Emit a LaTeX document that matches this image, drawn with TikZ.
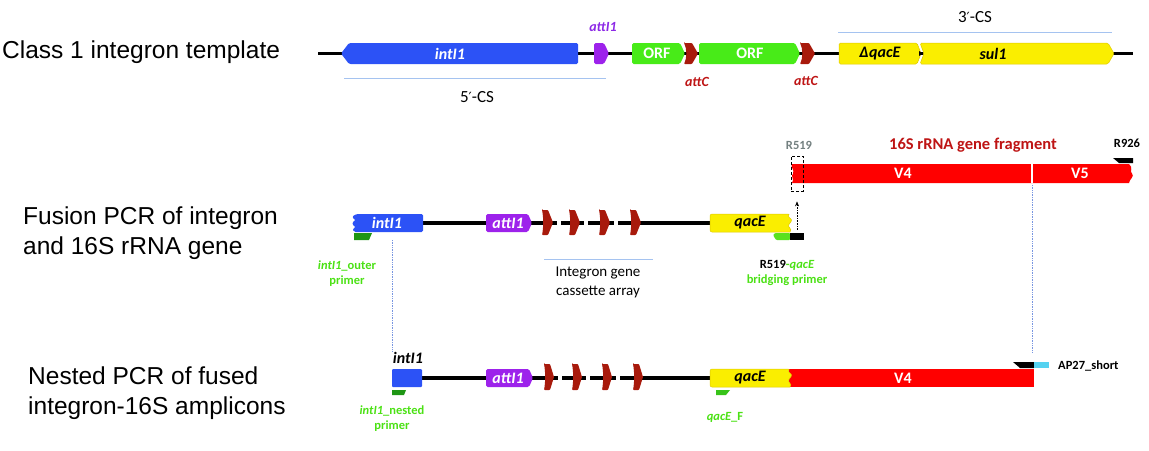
\documentclass[tikz,border=0pt]{standalone}
\usepackage{fontspec}
\setmainfont{Carlito}
\newfontfamily\helv{Liberation Sans}
\newfontfamily\djv{DejaVu Sans}
\usetikzlibrary{arrows.meta}
\definecolor{intblue}{RGB}{44,82,246}
\definecolor{attpurple}{RGB}{157,34,235}
\definecolor{orfgreen}{RGB}{72,235,24}
\definecolor{attcred}{RGB}{168,26,12}
\definecolor{qacyellow}{RGB}{250,238,0}
\definecolor{yelborder}{RGB}{222,200,0}
\definecolor{rrnared}{RGB}{255,0,0}
\definecolor{primdark}{RGB}{30,150,20}
\definecolor{primlight}{RGB}{90,225,30}
\definecolor{primmid}{RGB}{55,195,25}
\definecolor{labgreen}{RGB}{75,225,20}
\definecolor{lineblue}{RGB}{165,195,240}
\definecolor{dotblue}{RGB}{120,150,225}
\definecolor{labred}{RGB}{190,20,20}
\definecolor{labpurple}{RGB}{140,40,230}
\definecolor{labgray}{RGB}{115,128,128}
\definecolor{cyanp}{RGB}{85,210,240}
\newcommand{\primesym}{{\djv\fontsize{14}{14}\selectfont ′}}
\begin{document}
\begin{tikzpicture}[x=1pt,y=-1pt,
  backbone/.style={line width=3.4pt, black},
  gene/.style={rounded corners=1.5pt},
  genelab/.style={inner sep=0pt, text=white, font=\fontsize{16}{16}\selectfont\bfseries\itshape},
  genelabk/.style={inner sep=0pt, text=black, font=\fontsize{16}{16}\selectfont\bfseries\itshape},
  orflab/.style={inner sep=0pt, text=white, font=\fontsize{16}{16}\selectfont\bfseries},
  smalllab/.style={inner sep=0pt, font=\fontsize{12.5}{15}\selectfont\bfseries, align=center},
  sidelab/.style={inner sep=0pt, anchor=west, align=left, font=\helv\fontsize{24.5}{30}\selectfont},
  cslab/.style={inner sep=0pt, font=\fontsize{17}{17}\selectfont},
  csline/.style={lineblue, line width=0.8pt},
  guide/.style={dotblue, densely dotted, line width=0.7pt},
  marker/.style={fill=attcred, rounded corners=0.8pt}
]
\useasboundingbox (0,0) rectangle (1149,450);

% ---------- side labels ----------
\node[sidelab] (s1) at (2,52) {Class 1 integron template};
\node[sidelab] (s2) at (23,233) {Fusion PCR of integron\\and 16S rRNA gene};
\node[sidelab] (s3) at (28,393) {Nested PCR of fused\\integron-16S amplicons};

% ---------- Row 1 ----------
\coordinate (r1a) at (318,53.5);
\coordinate (r1b) at (1133,53.5);
\draw[backbone] (r1a) -- (r1b);
\fill[intblue, gene] (578,43) -- (349,43) -- (341,53.5) -- (349,64) -- (578,64) -- cycle;
\node[genelab] (g1int) at (450,53.5) {intI1};
\fill[attpurple, gene] (594,43) -- (604,43) -- (609,53.5) -- (604,64) -- (594,64) -- cycle;
\node[inner sep=0pt, text=labpurple, font=\fontsize{14}{14}\selectfont\bfseries\itshape] (l1att) at (603,27) {attI1};
\fill[orfgreen, gene] (632,43) -- (680,43) -- (685,53.5) -- (680,64) -- (632,64) -- cycle;
\node[orflab] (orf1) at (657,53.5) {ORF};
\fill[marker] (684,43) -- (692,43) -- (698,53.5) -- (692,64) -- (684,64) .. controls (687,58) and (687,49) .. cycle;
\fill[orfgreen, gene] (699,43) -- (795,43) -- (800,53.5) -- (795,64) -- (699,64) -- cycle;
\node[orflab] (orf2) at (750,53.5) {ORF};
\fill[marker] (800,43) -- (809,43) -- (815,53.5) -- (809,64) -- (800,64) .. controls (803,58) and (803,49) .. cycle;
\node[inner sep=0pt, text=labred, font=\fontsize{14}{14}\selectfont\bfseries\itshape] (c1) at (697,82) {attC};
\node[inner sep=0pt, text=labred, font=\fontsize{14}{14}\selectfont\bfseries\itshape] (c2) at (806,81) {attC};
\filldraw[fill=qacyellow, draw=yelborder, line width=0.5pt, gene] (839,43) -- (917,43) -- (921,53.5) -- (917,64) -- (839,64) -- cycle;
\filldraw[fill=qacyellow, draw=yelborder, line width=0.5pt, gene] (920,43) -- (1108,43) -- (1114,53.5) -- (1108,64) -- (920,64) -- (924,53.5) -- cycle;
\fill[black] (919,51) -- (923,53.5) -- (919,56) -- cycle;
\node[genelabk] (dq) at (880,53.5) {Δ\kern0.5pt qacE};
\node[genelabk] (sul) at (993,53.5) {sul1};
\draw[csline] (344,78) coordinate (cs5a) -- (606,78) coordinate (cs5b);
\node[cslab] (cs5) at (477,97) {5\primesym-CS};
\draw[csline] (838,32) coordinate (cs3a) -- (1112,32) coordinate (cs3b);
\node[cslab] (cs3) at (975,17) {3\primesym-CS};

% ---------- Row 2 ----------
\draw[backbone] (423,223) -- (486,223);
\draw[backbone] (531,223) -- (543,223);
\foreach \a/\b in {553/569,580/599,610/630}{
  \draw[backbone] (\a-1,223) -- (\a+4,223);
  \draw[backbone] (\a+8,223) -- (\b+1,223);
}
\draw[backbone] (640,223) -- (711,223);
\fill[intblue, gene] (423,214) -- (357,214) .. controls (352,216) and (352,218) .. (356,220) .. controls (352,222) and (352,225) .. (356,227) .. controls (352,229) and (353,232) .. (357,232) -- (423,232) -- cycle;
\node[genelab] (g2int) at (387,223) {intI1};
\fill[attpurple, gene] (486,214) -- (528,214) -- (532,223) -- (528,232) -- (486,232) -- cycle;
\node[genelab] (g2att) at (508,223) {attI1};
\foreach \xa in {542,569,599,630}{
  \fill[marker] (\xa,210) -- (\xa+6,210) -- (\xa+11,222.5) -- (\xa+6,235) -- (\xa,235) .. controls (\xa+1.5,228) and (\xa+1.5,217) .. cycle;
}
\filldraw[fill=qacyellow, draw=yelborder, line width=0.5pt, rounded corners=2pt] (790,232) -- (710,232) -- (710,214) -- (790,214) .. controls (787,217) and (793,219) .. (790,223) .. controls (787,227) and (793,229) .. (790,232);
\node[genelabk] (g2qac) at (750,223) {qacE};
% 16S fragment
\fill[rrnared] (792,164) -- (1129,164) .. controls (1134,168) and (1129,171) .. (1132,173.5) .. controls (1135,176) and (1129,180) .. (1129,183) -- (792,183) .. controls (795,179) and (790,176) .. (793,173.5) .. controls (795,170) and (790,167) .. cycle;
\draw[white, line width=1.3pt] (1032,164) -- (1032,183);
\node[orflab] (v4a) at (903,173.5) {V4};
\node[orflab] (v5a) at (1080,173.5) {V5};
\node[inner sep=0pt, text=labred, font=\fontsize{16.5}{16.5}\selectfont\bfseries] (frag) at (973,145) {16S rRNA gene fragment};
\node[inner sep=0pt, text=labgray, font=\fontsize{12.5}{12.5}\selectfont\bfseries] (r519) at (799,145) {R519};
\node[inner sep=0pt, text=black, font=\fontsize{12.5}{12.5}\selectfont\bfseries] (r926) at (1127,143) {R926};
\fill[black] (1113,158) -- (1133,158) -- (1133,163) -- (1119,163) -- cycle;
\node[draw, dash pattern=on 3pt off 2pt, line width=0.8pt, minimum width=12pt, minimum height=35pt, inner sep=0pt] (box) at (797,173.5) {};
% primers row 2
\fill[primdark] (354,233) -- (372,233) -- (369,240) -- (354,240) -- cycle;
\fill[primlight, rounded corners=1pt] (790,233) -- (775,233) -- (773,235) -- (776,240) -- (790,240) -- cycle;
\node[fill=black, minimum width=14pt, minimum height=7pt, inner sep=0pt] (bprim) at (797,236.5) {};
\draw[densely dotted, line width=0.6pt, -{Stealth[length=5pt,width=4pt]}, shorten <=3pt] (bprim.north) -- ([yshift=-10pt]box.south);
\node[smalllab, text=labgreen] (pl1) at (347,273.5) {\itshape intI1\upshape\_outer\\primer};
\node[smalllab] (pl2) at (787,273) {\textcolor{black}{R519}\textcolor{labgreen}{-\itshape qacE}\\\textcolor{labgreen}{bridging primer}};
\draw[csline] (544,259) coordinate (ga) -- (653,259) coordinate (gb);
\node[inner sep=0pt, align=center, font=\fontsize{15}{19}\selectfont] (garr) at (598,282) {Integron gene\\cassette array};

% guides
\draw[guide] (392,240) coordinate (gd1a) -- (392,352) coordinate (gd1b);
\draw[guide] (1032,185) coordinate (gd2a) -- (1032,352) coordinate (gd2b);

% ---------- Row 3 ----------
\draw[backbone] (422,378) -- (486,378);
\draw[backbone] (532,378) -- (545,378);
\foreach \a/\b in {554/572,582/602,612/633}{
  \draw[backbone] (\a-1,378) -- (\a+4,378);
  \draw[backbone] (\a+8,378) -- (\b+1,378);
}
\draw[backbone] (642,378) -- (711,378);
\fill[intblue, rounded corners=1pt] (392,369) rectangle (422,387);
\node[genelabk] (g3intl) at (408,358) {intI1};
\fill[attpurple, gene] (486,369) -- (529,369) -- (533,378) -- (529,387) -- (486,387) -- cycle;
\node[genelab] (g3att) at (508,378) {attI1};
\foreach \xa in {544,572,602,633}{
  \fill[marker] (\xa,364) -- (\xa+6,364) -- (\xa+10,377) -- (\xa+6,390) -- (\xa,390) .. controls (\xa+1.5,382) and (\xa+1.5,372) .. cycle;
}
\fill[rrnared] (789,369) rectangle (1034,387);
\filldraw[fill=qacyellow, draw=yelborder, line width=0.5pt, rounded corners=2pt] (790,387) -- (710,387) -- (710,369) -- (790,369) .. controls (787,372) and (793,374) .. (790,378) .. controls (787,382) and (793,384) .. (790,387);
\node[genelabk] (g3qac) at (750,378) {qacE};
\node[orflab] (v4b) at (903,378) {V4};
\fill[black] (1013,362) -- (1034,362) -- (1034,368) -- (1020,368) -- cycle;
\fill[cyanp] (1034,362) rectangle (1049,368);
\node[inner sep=0pt, anchor=west, font=\fontsize{12.5}{12.5}\selectfont\bfseries] (ap27) at (1058,366) {AP27\_short};
\fill[primdark] (392,390) -- (406,390) -- (404,395) -- (392,395) -- cycle;
\fill[primmid] (716,390) -- (730,390) -- (726,395) -- (716,395) -- cycle;
\node[smalllab, text=labgreen] (pl3) at (392,418.5) {\itshape intI1\upshape\_nested\\primer};
\node[smalllab, text=labgreen] (pl4) at (725,417) {\itshape qacE\upshape\_F};
\end{tikzpicture}
\end{document}
